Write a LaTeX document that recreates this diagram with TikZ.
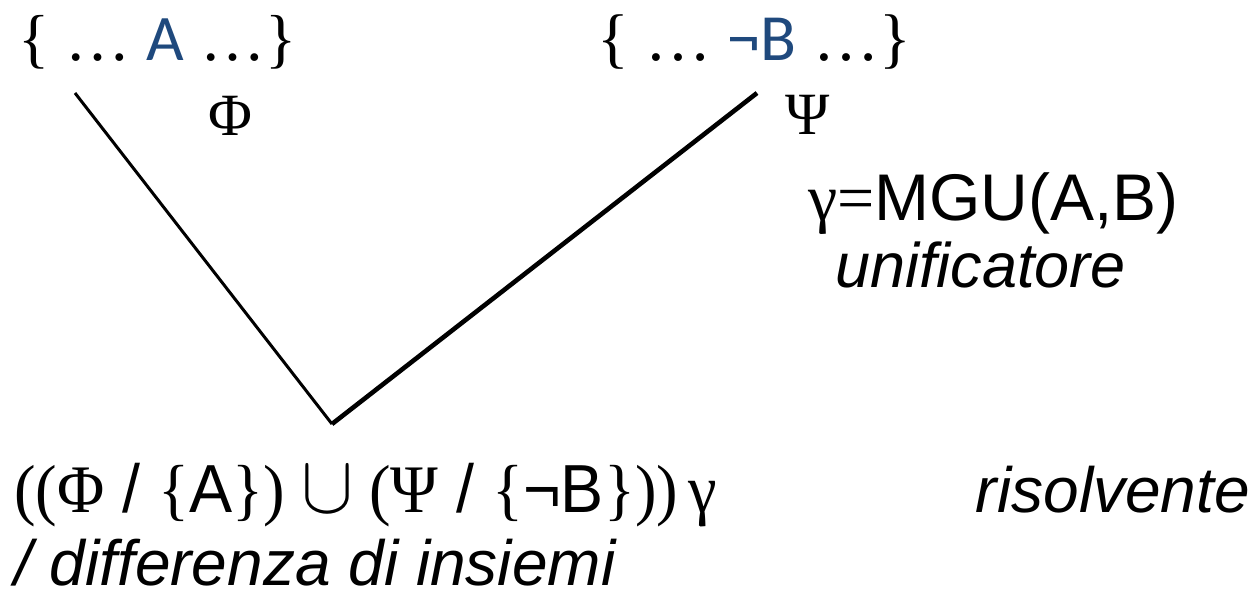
\documentclass[tikz,border=0pt]{standalone}
\usepackage{fontspec}
\setmainfont{Liberation Sans}
\newfontfamily\timesfont{Liberation Serif}
\newfontfamily\calfont{Carlito}
\definecolor{litblue}{HTML}{1F497D}
\newcommand{\lit}[1]{{\calfont\color{litblue}#1}}
\newcommand{\unionsym}{\scalebox{3.3}{$\cup$}}

\begin{document}
\begin{tikzpicture}[x=1pt,y=-1pt,
			txt/.style={
				inner sep=0pt,
				anchor=base west,
				font=\fontsize{64}{64}\selectfont
			},
			sym/.style={
				inner sep=0pt,
				font=\timesfont\fontsize{60}{60}\selectfont
			},
			branch/.style={
				line width=3pt
			},
			branchbold/.style={
				line width=4.6pt
			}
			]
			
			\useasboundingbox (0,0) rectangle (1255,598);
			
			\node (clauseA) [txt, font=\fontsize{65}{65}\selectfont] at (18,60) {{\timesfont\{ … }\lit{A}{\timesfont\ …\}}};
			\node (clauseB) [txt, font=\fontsize{66}{66}\selectfont] at (597,60) {{\timesfont\{ … }\lit{¬B}{\timesfont\ …\}}};
			\node (phi) [sym] at (230,116) {Φ};
			\node (psi) [sym] at (808,115) {Ψ};
			
			\node (mgu) [txt, font=\fontsize{66}{66}\selectfont] at (808,220) {{\timesfont γ=}MGU(A,B)};
			\node (unif) [txt, font=\fontsize{63}{63}\selectfont] at (835,287) {\itshape unificatore};
			
			\node (res) [txt, font=\fontsize{68}{68}\selectfont] at (14,512) {\scalebox{0.95}[1]{{\timesfont ((Φ} / {\timesfont\{}A{\timesfont\}) \unionsym\ (Ψ} / {\timesfont\{}¬B{\timesfont\}))\,γ}}};
			\node (reslabel) [txt, anchor=base east] at (1250,512) {\itshape risolvente};
			\node (diff) [txt, font=\fontsize{64}{64}\selectfont] at (14,585) {\itshape / differenza di insiemi};
			
			\coordinate (phitop) at (75,93);
			\coordinate (psitop) at (757,93);
			\coordinate (join) at (332,424);
			
			\draw [branch] (phitop) -- (join);
			\draw [branchbold] (join) -- (psitop);
			
		\end{tikzpicture}
\end{document}
